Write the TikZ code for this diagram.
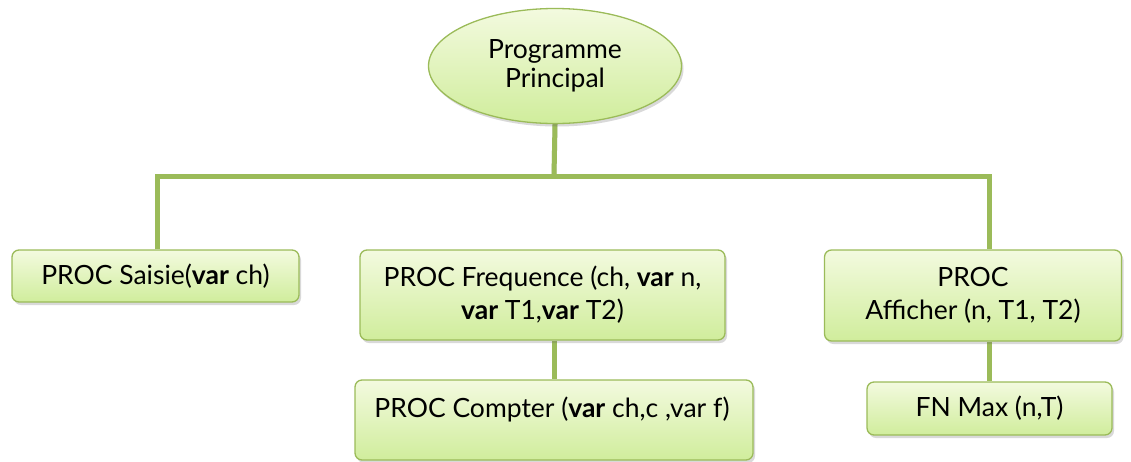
\documentclass[tikz,border=0pt]{standalone}
\usepackage{fontspec}
\setmainfont{Lato}
\usetikzlibrary{shapes.geometric,shadows,backgrounds}

\definecolor{linkgreen}{HTML}{9BBB59}
\definecolor{edgegreen}{HTML}{9BBB59}
\definecolor{topfill}{HTML}{F3FADF}
\definecolor{botfill}{HTML}{D0ED9C}

\tikzset{
  softshadow/.style={drop shadow={shadow xshift=2pt,shadow yshift=-3pt,opacity=0.25,fill=black!60}},
  boxfont/.style={font=\fontsize{26.5}{33}\selectfont},
  procbox/.style={draw=edgegreen, line width=1.3pt, rounded corners=7pt,
    top color=topfill, bottom color=botfill, softshadow,
    align=center, boxfont, inner sep=0pt},
  mainoval/.style={ellipse, draw=edgegreen, line width=1.3pt,
    top color=topfill, bottom color=botfill, softshadow,
    align=center, font=\fontsize{26.5}{29}\selectfont, inner sep=0pt},
  link/.style={draw=linkgreen, line width=5pt},
  linkshadow/.style={draw=black, draw opacity=0.16, line width=5pt, xshift=2pt, yshift=-3pt},
}

\begin{document}
\begin{tikzpicture}[x=1pt,y=-1pt]
  \useasboundingbox (0,0) rectangle (1131,461);
  \clip (0,0) rectangle (1131,461);

  % junction points of the horizontal bar
  \coordinate (barL) at (157,176);
  \coordinate (barM) at (554,176);
  \coordinate (barR) at (989,176);

  % nodes
  \node[mainoval, minimum width=253pt, minimum height=115pt] (main) at (555,66)
    {Programme\\Principal};

  \node[procbox, minimum width=287pt, minimum height=52pt] (saisie) at (155.5,276)
    {PROC Saisie(\textbf{var} ch)};

  \node[procbox, minimum width=365pt, minimum height=90pt] (freq) at (542.5,295)
    {PROC Frequence (ch, \textbf{var} n,\\\textbf{var} T1,\textbf{var} T2)};

  \node[procbox, minimum width=297pt, minimum height=91pt] (aff) at (973,295.5)
    {PROC\\Afficher (n, T1, T2)};

  \node[procbox, minimum width=398pt, minimum height=80pt] (compter) at (554,420) {};
  \node[boxfont, anchor=base] (compterlabel) at (552,417)
    {PROC Compter (\textbf{var} ch,c ,var f)};

  \node[procbox, minimum width=245pt, minimum height=53pt] (fnmax) at (989.5,408.5)
    {FN Max (n,T)};

  % tree links, behind the boxes, each with a soft offset shadow
  \begin{scope}[on background layer]
    \foreach \sty in {linkshadow, link} {
      \path[\sty] (main.south) -- (barM);
      \path[\sty] (barL |- saisie.north) -- (barL) -- (barR) -- (barR |- aff.north);
      \path[\sty] (freq.south -| barM) -- (compter.north -| barM);
      \path[\sty] (aff.south -| barR) -- (fnmax.north -| barR);
    }
  \end{scope}
\end{tikzpicture}
\end{document}
